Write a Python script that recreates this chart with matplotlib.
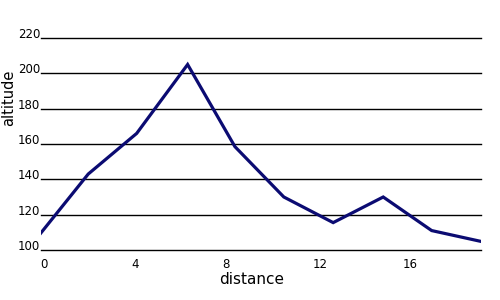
import matplotlib
matplotlib.use("Agg")
import matplotlib.pyplot as plt

distance = [0.0, 2.1, 4.24, 6.49, 8.58, 10.74, 12.92, 15.13, 17.27, 19.4]
altitude = [109.5, 143, 166, 205, 158.5, 130, 115.5, 130, 111, 105]
x_ticks = [0, 4, 8, 12, 16]
y_ticks = [100, 120, 140, 160, 180, 200, 220]

fig = plt.figure(figsize=(5, 3), dpi=100)
ax = fig.add_axes([40.7 / 500, 1 - 250 / 300, (481 - 40.7) / 500, (250 - 38) / 300])

ax.plot(distance, altitude, color="#0b0b72", lw=2.3, solid_joinstyle="miter", zorder=3)

ax.set_xlim(0, 19.45)
ax.set_ylim(100, 220)
ax.set_xticks(x_ticks)
ax.set_yticks(y_ticks)
ax.set_xticklabels([str(t) for t in x_ticks], fontsize=8.5)
ax.set_yticklabels([str(t) for t in y_ticks], fontsize=8.5)
for lab in ax.get_xticklabels():
    lab.set_horizontalalignment("left")
for lab in ax.get_yticklabels():
    lab.set_verticalalignment("baseline")
ax.tick_params(axis="x", length=0, pad=6)
ax.tick_params(axis="y", length=0, pad=0.5)
ax.grid(axis="y", color="black", lw=1)
for gl in ax.get_ygridlines():
    gl.set_clip_on(False)
ax.set_axisbelow(True)
for s in ax.spines.values():
    s.set_visible(False)
ax.patch.set_visible(False)

fig.text(251.7 / 500, 1 - 283.5 / 300, "distance", fontsize=11, ha="center", va="baseline")
fig.text(9 / 500, 1 - 97.5 / 300, "altitude", fontsize=10.5, ha="center", va="center", rotation=90)

fig.savefig("out.png", dpi=100)
